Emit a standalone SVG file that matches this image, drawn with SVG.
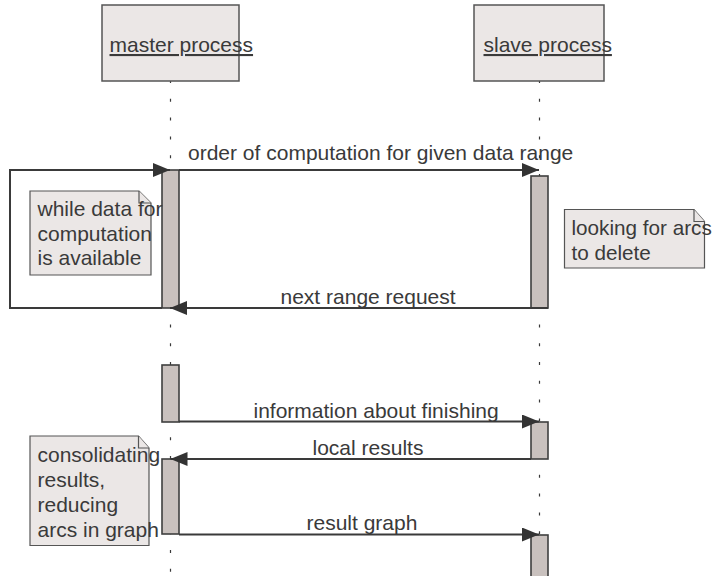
<svg xmlns="http://www.w3.org/2000/svg" width="713" height="576" viewBox="0 0 713 576">
  <style>
    .lbl { font-family: "Liberation Sans", Arial, sans-serif; font-size: 21px; fill: #3a3a3a; }
    .head { fill: #ebe7e6; stroke: #555555; stroke-width: 1.5; }
    .life { stroke: #3a3a3a; stroke-width: 1.2; stroke-dasharray: 3 15.8; fill: none; }
    .act { fill: #c9c1be; stroke: #3f3f3f; stroke-width: 1.6; }
    .note { fill: #ebe7e6; stroke: #555555; stroke-width: 1.2; }
    .msg { stroke: #3a3a3a; stroke-width: 2; fill: none; }
  </style>
  <defs>
    <marker id="arrow" markerUnits="userSpaceOnUse" markerWidth="17" markerHeight="14" refX="17" refY="7" orient="auto">
      <path d="M0,0 L17,7 L0,14 Z" fill="#333333"/>
    </marker>
  </defs>
  <rect width="713" height="576" fill="#ffffff"/>

  <!-- lifelines -->
  <g id="lifelines">
    <line class="life" x1="170.5" y1="80" x2="170.5" y2="576"/>
    <line class="life" x1="539.5" y1="80" x2="539.5" y2="576"/>
  </g>

  <!-- participants -->
  <g id="master">
    <rect class="head" x="102" y="5" width="137" height="76"/>
    <text class="lbl" x="109.5" y="52" text-decoration="underline">master process</text>
  </g>
  <g id="slave">
    <rect class="head" x="474" y="5" width="130" height="76"/>
    <text class="lbl" x="483.5" y="52" text-decoration="underline">slave process</text>
  </g>

  <!-- activation bars -->
  <g id="activations">
    <rect class="act" x="162" y="170" width="17" height="138"/>
    <rect class="act" x="531" y="176" width="17" height="132"/>
    <rect class="act" x="162" y="365" width="17" height="57"/>
    <rect class="act" x="531" y="422" width="17" height="37"/>
    <rect class="act" x="162" y="459" width="17" height="75"/>
    <rect class="act" x="531" y="535" width="17" height="50"/>
  </g>

  <!-- notes -->
  <g id="note-loop">
    <path class="note" d="M30,191 H139 L151,203 V275 H30 Z"/>
    <path class="note" d="M139,191 V203 H151" fill="none"/>
    <text class="lbl"><tspan x="37.5" y="215.5">while data for</tspan><tspan x="37.5" y="240.5">computation</tspan><tspan x="37.5" y="265">is available</tspan></text>
  </g>
  <g id="note-search">
    <path class="note" d="M564.5,209.5 H694 L704.5,221.5 V268 H564.5 Z"/>
    <path class="note" d="M694,209.5 V221.5 H704.5" fill="none"/>
    <text class="lbl" style="font-size:20.7px"><tspan x="571.5" y="235">looking for arcs</tspan><tspan x="571.5" y="259.5">to delete</tspan></text>
  </g>
  <g id="note-consolidate">
    <path class="note" d="M30,436 H138.5 L149,448 V545.5 H30 Z"/>
    <path class="note" d="M138.5,436 V448 H149" fill="none"/>
    <text class="lbl"><tspan x="37.5" y="461.5">consolidating</tspan><tspan x="37.5" y="486.5">results,</tspan><tspan x="37.5" y="511.5">reducing</tspan><tspan x="37.5" y="536.5">arcs in graph</tspan></text>
  </g>

  <!-- messages -->
  <g id="connectors">
    <path class="msg" d="M162,308 H10 V170 H170" marker-end="url(#arrow)"/>
    <path class="msg" d="M179,170 H539" marker-end="url(#arrow)"/>
    <path class="msg" d="M548,308 H170" marker-end="url(#arrow)"/>
    <path class="msg" d="M179,421.5 H539" marker-end="url(#arrow)"/>
    <path class="msg" d="M531,459 H170.5" marker-end="url(#arrow)"/>
    <path class="msg" d="M179,534.5 H539" marker-end="url(#arrow)"/>
  </g>

  <!-- message labels -->
  <g id="labels">
    <text class="lbl" x="188" y="160">order of computation for given data range</text>
    <text class="lbl" x="280.5" y="304">next range request</text>
    <text class="lbl" x="253.5" y="417.5">information about finishing</text>
    <text class="lbl" x="312.5" y="454.5">local results</text>
    <text class="lbl" x="306.5" y="530">result graph</text>
  </g>
</svg>
